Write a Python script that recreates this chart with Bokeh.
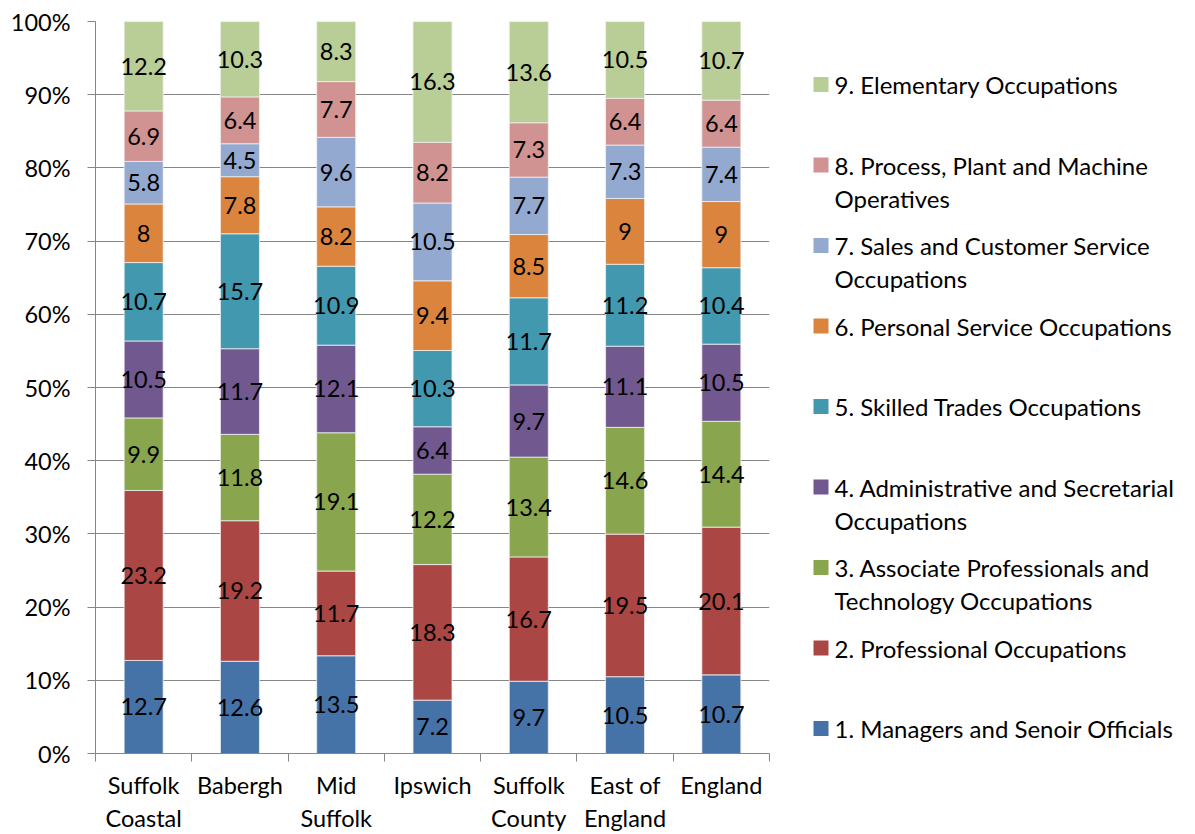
import textwrap
import numpy as np
from bokeh.plotting import figure
from bokeh.models import ColumnDataSource, FixedTicker, NumeralTickFormatter, Range1d
from bokeh.layouts import row
from bokeh.core.properties import value
from bokeh.embed import file_html
from bokeh.resources import INLINE

# ---------------- data ----------------
areas = ["Suffolk Coastal", "Babergh", "Mid Suffolk", "Ipswich",
         "Suffolk County", "East of England", "England"]

occupations = [
    "1. Managers and Senoir Officials",
    "2. Professional Occupations",
    "3. Associate Professionals and Technology Occupations",
    "4. Administrative and Secretarial Occupations",
    "5. Skilled Trades Occupations",
    "6. Personal Service Occupations",
    "7. Sales and Customer Service Occupations",
    "8. Process, Plant and Machine Operatives",
    "9. Elementary Occupations",
]

managers     = [12.7, 12.6, 13.5, 7.2, 9.7, 10.5, 10.7]
professional = [23.2, 19.2, 11.7, 18.3, 16.7, 19.5, 20.1]
associate    = [9.9, 11.8, 19.1, 12.2, 13.4, 14.6, 14.4]
admin        = [10.5, 11.7, 12.1, 6.4, 9.7, 11.1, 10.5]
skilled      = [10.7, 15.7, 10.9, 10.3, 11.7, 11.2, 10.4]
personal     = [8, 7.8, 8.2, 9.4, 8.5, 9, 9]
sales        = [5.8, 4.5, 9.6, 10.5, 7.7, 7.3, 7.4]
process      = [6.9, 6.4, 7.7, 8.2, 7.3, 6.4, 6.4]
elementary   = [12.2, 10.3, 8.3, 16.3, 13.6, 10.5, 10.7]

series = [managers, professional, associate, admin, skilled,
          personal, sales, process, elementary]

colors = ["#4572A7", "#AA4643", "#89A54E", "#71588F", "#4198AF",
          "#DB843D", "#93A9CF", "#D19392", "#B9CD96"]

FONT = "Lato"
GRAY = "#868686"

# ---------------- layout ----------------
W, H = 1192, 834
F_LEFT, F_RIGHT, F_TOP, F_BOTTOM = 95, 769, 21, 753   # plot frame, page px
MAIN_W = 790
NCAT = len(areas)

# ---------------- main chart ----------------
vals = np.array(series, dtype=float)          # (9, 7)
totals = vals.sum(axis=0)
frac = vals / totals
tops = np.cumsum(frac, axis=0)
bottoms = tops - frac
xpos = np.arange(NCAT) + 0.5

p = figure(width=MAIN_W, height=H, x_range=Range1d(0, NCAT), y_range=Range1d(0, 1),
           output_backend="svg", toolbar_location=None,
           min_border_left=F_LEFT, min_border_right=MAIN_W - F_RIGHT,
           min_border_top=F_TOP, min_border_bottom=H - F_BOTTOM)
p.outline_line_color = None

for i, name in enumerate(occupations):
    src = ColumnDataSource(dict(x=xpos, top=tops[i], bottom=bottoms[i]))
    p.vbar(x="x", top="top", bottom="bottom", width=0.405, source=src,
           fill_color=colors[i], line_color="#f0f0f0", line_width=0.8)

lx, ly, lt = [], [], []
for i in range(len(occupations)):
    for j in range(NCAT):
        lx.append(xpos[j])
        ly.append((tops[i][j] + bottoms[i][j]) / 2)
        lt.append(f"{series[i][j]:g}")
p.text(x=lx, y=ly, text=lt, text_font=value(FONT), text_font_size="23.5px",
       text_align="center", text_baseline="middle", text_color="black")

# y axis
p.yaxis.ticker = FixedTicker(ticks=[k / 10 for k in range(11)], minor_ticks=[])
p.yaxis.formatter = NumeralTickFormatter(format="0%")
p.yaxis.axis_line_color = GRAY
p.yaxis.major_tick_line_color = GRAY
p.yaxis.major_tick_out = 8
p.yaxis.major_tick_in = 0
p.yaxis.major_label_standoff = 17
p.yaxis.major_label_text_font = FONT
p.yaxis.major_label_text_font_size = "23.5px"
p.yaxis.major_label_text_color = "black"

# x axis: ticks at category boundaries, names centred under the bars
p.xaxis.ticker = FixedTicker(ticks=list(xpos), minor_ticks=list(range(NCAT + 1)))
p.xaxis.major_label_overrides = {float(x): "\n".join(textwrap.wrap(a, 8)) for x, a in zip(xpos, areas)}
p.xaxis.axis_line_color = GRAY
p.xaxis.major_tick_line_color = None
p.xaxis.major_tick_out = 0
p.xaxis.major_tick_in = 0
p.xaxis.minor_tick_line_color = GRAY
p.xaxis.minor_tick_out = 8
p.xaxis.minor_tick_in = 0
p.xaxis.major_label_standoff = 9
p.xaxis.major_label_text_font = FONT
p.xaxis.major_label_text_font_size = "23.5px"
p.xaxis.major_label_text_color = "black"
p.xaxis.major_label_text_line_height = 1.18

p.xgrid.grid_line_color = None
p.ygrid.grid_line_color = GRAY
p.ygrid.grid_line_width = 1

# ---------------- legend (separate panel, data units = page px) ----------------
lg = figure(width=W - MAIN_W, height=H, x_range=Range1d(MAIN_W, W),
            y_range=Range1d(F_BOTTOM, F_TOP),
            output_backend="svg", toolbar_location=None,
            min_border_left=0, min_border_right=0,
            min_border_top=F_TOP, min_border_bottom=H - F_BOTTOM,
            x_axis_location=None, y_axis_location=None)
lg.outline_line_color = None
lg.xgrid.grid_line_color = None
lg.ygrid.grid_line_color = None

slot_top = 84       # first swatch centre, page px
slot_step = 80.5
line_step = 33
sw_y, sw_c, tx, ty, tt = [], [], [], [], []
for k, idx in enumerate(range(len(occupations) - 1, -1, -1)):
    yc = slot_top + k * slot_step
    sw_y.append(yc); sw_c.append(colors[idx])
    for j, line in enumerate(textwrap.wrap(occupations[idx], 33)):
        tx.append(834); ty.append(yc + j * line_step); tt.append(line)
lg.rect(x=[820.5] * len(sw_y), y=sw_y, width=15, height=15, width_units="screen",
        height_units="screen", fill_color=sw_c, line_color=None)
lg.text(x=tx, y=ty, text=tt, text_font=value(FONT), text_font_size="24px",
        text_align="left", text_baseline="middle", text_color="black")

layout = row(p, lg)
open("out.html", "w").write(file_html(layout, INLINE))
